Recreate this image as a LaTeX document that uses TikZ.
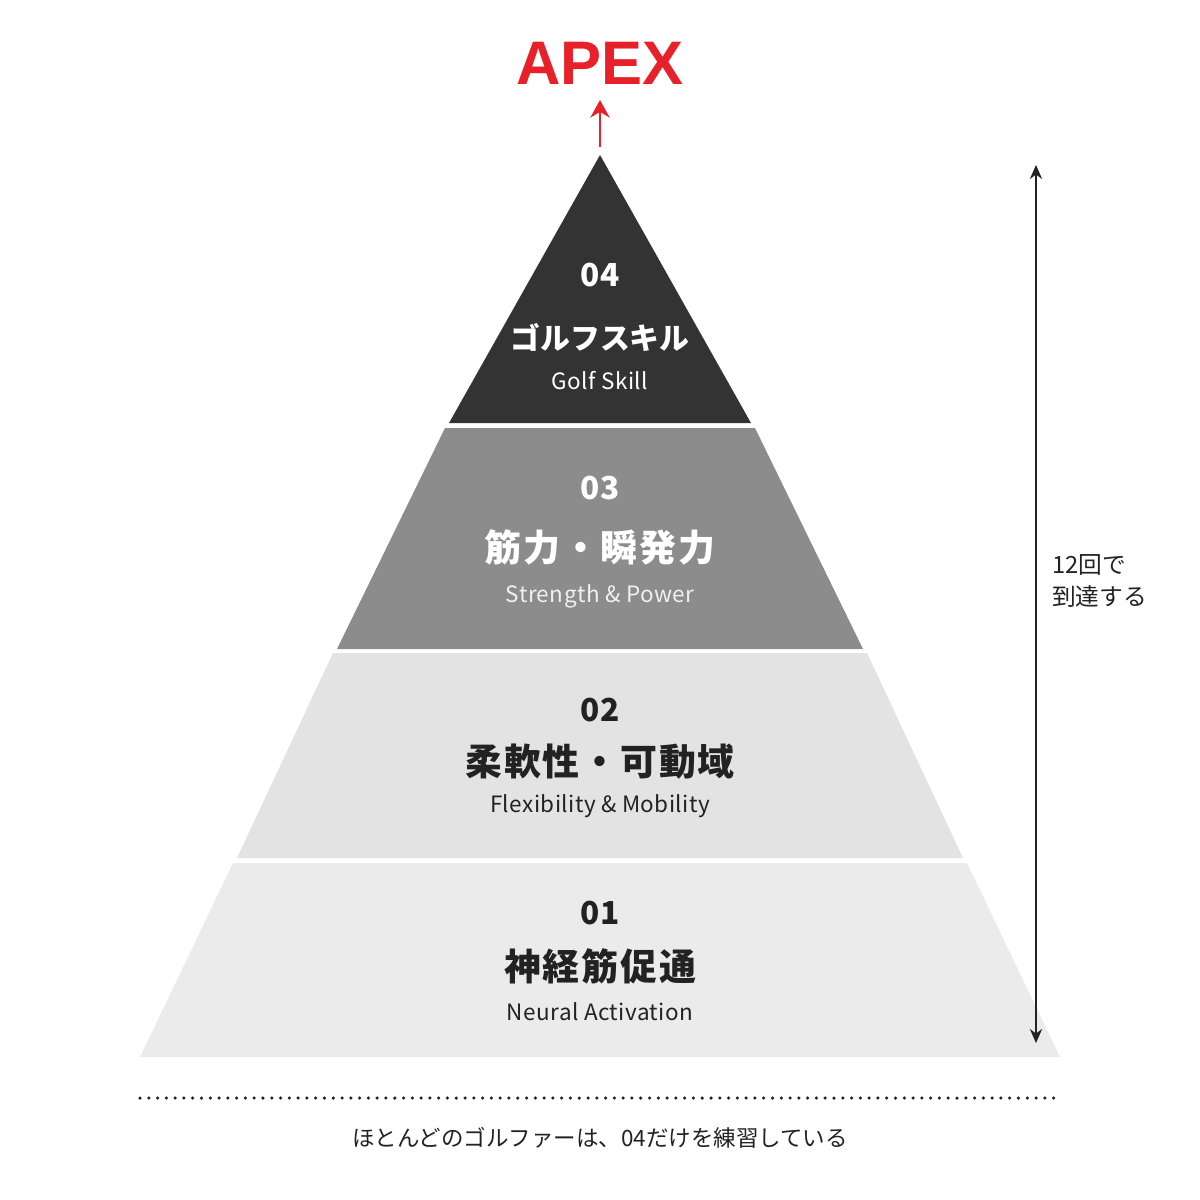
\documentclass[tikz,border=0pt]{standalone}
\usepackage{fontspec}
\setmainfont{Noto Sans CJK JP}
\newfontfamily\apexfont{Liberation Sans}
\usetikzlibrary{arrows.meta}

\definecolor{tierA}{HTML}{333333}
\definecolor{tierB}{HTML}{8C8C8C}
\definecolor{tierC}{HTML}{E3E3E3}
\definecolor{tierD}{HTML}{EBEBEB}
\definecolor{ink}{HTML}{222222}
\definecolor{apexred}{HTML}{E8202A}

\tikzset{
  num/.style={font=\fontsize{18}{18}\selectfont\bfseries},
  ttl/.style={font=\fontsize{21}{21}\selectfont\bfseries\addfontfeature{LetterSpace=5}},
  sub/.style={font=\fontsize{12.8}{12.8}\selectfont\addfontfeature{LetterSpace=2}},
  note/.style={font=\fontsize{13.5}{18}\selectfont, text=ink},
}

\begin{document}
\begin{tikzpicture}[x=0.02cm, y=-0.02cm]
  \useasboundingbox (0,0) rectangle (1200,1200);
  % pyramid tiers
  \fill[tierA] (600,155) -- (751,423) -- (449,423) -- cycle;
  \fill[tierB] (445,428) -- (755,428) -- (863,649) -- (337,649) -- cycle;
  \fill[tierC] (333,653) -- (867,653) -- (963,858) -- (237,858) -- cycle;
  \fill[tierD] (233,863) -- (967,863) -- (1060,1057) -- (140,1057) -- cycle;

  \node[num, text=white] (n4) at (600,275) {04};
  \node[ttl, text=white, font=\fontsize{17}{17}\selectfont\bfseries] (t4) at (600,337) {ゴルフスキル};
  \node[sub, text=white] (s4) at (600,381) {Golf Skill};

  \node[num, text=white] (n3) at (600,488) {03};
  \node[ttl, text=white] (t3) at (600,547) {筋力・瞬発力};
  \node[sub, text=white!94!black] (s3) at (600,596) {Strength \& Power};

  \node[num, text=ink] (n2) at (600,710) {02};
  \node[ttl, text=ink] (t2) at (600,762) {柔軟性・可動域};
  \node[sub, text=ink] (s2) at (600,806) {Flexibility \& Mobility};

  \node[num, text=ink] (n1) at (600,913) {01};
  \node[ttl, text=ink] (t1) at (600,966) {神経筋促通};
  \node[sub, text=ink] (s1) at (600,1012) {Neural Activation};

  % apex
  \node[text=apexred, font=\apexfont\fontsize{35}{35}\selectfont\bfseries] (apex) at (600,63) {APEX};
  \coordinate (peak) at (600,147);
  \coordinate (peaktip) at (600,100);
  \draw[apexred, line width=1.2pt, -{Stealth[length=10pt, width=11pt]}] (peak) -- (peaktip);

  % reps arrow
  \coordinate (repstop) at (1036,165);
  \coordinate (repsbot) at (1036,1043);
  \draw[ink, line width=0.8pt, {Stealth[length=8pt, width=7pt]}-{Stealth[length=8pt, width=7pt]}] (repstop) -- (repsbot);
  \node[note, anchor=west, align=left] (reps) at (1046,581) {12回で\\到達する};

  % footer
  \coordinate (dotl) at (140,1098);
  \coordinate (dotr) at (1060,1098);
  \draw[ink, line width=2pt, line cap=round, dash pattern=on 0pt off 5pt] (dotl) -- (dotr);
  \node[note, font=\fontsize{12.8}{12.8}\selectfont] (foot) at (600,1138) {ほとんどのゴルファーは、04だけを練習している};
\end{tikzpicture}
\end{document}
